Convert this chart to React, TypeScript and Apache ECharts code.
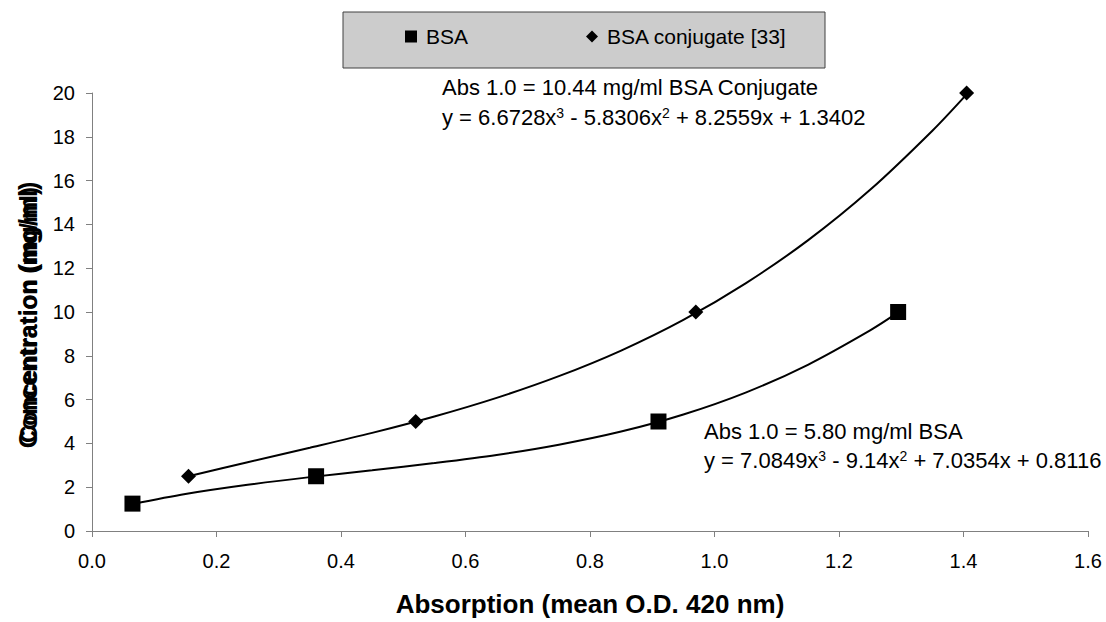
import React, { useEffect, useRef } from "react";
import * as echarts from "echarts";

const bsaX = [0.065, 0.36, 0.91, 1.295];
const bsaY = [1.25, 2.5, 5.0, 10.0];
const conjX = [0.155, 0.52, 0.97, 1.405];
const conjY = [2.5, 5.0, 10.0, 20.0];

// trendline points
const bsaTrendX = [0.065, 0.15, 0.25, 0.35, 0.45, 0.55, 0.65, 0.75, 0.85, 0.95, 1.05, 1.15, 1.25, 1.295];
const bsaTrendY = [1.23, 1.69, 2.11, 2.46, 2.77, 3.1, 3.47, 3.94, 4.54, 5.32, 6.32, 7.59, 9.16, 9.98];
const conjTrendX = [0.155, 0.25, 0.35, 0.45, 0.55, 0.65, 0.75, 0.85, 0.95, 1.05, 1.15, 1.25, 1.35, 1.405];
const conjTrendY = [2.5, 3.14, 3.8, 4.48, 5.23, 6.08, 7.07, 8.24, 9.64, 11.31, 13.27, 15.58, 18.28, 19.94];

const seriesNames = ["BSA", "BSA conjugate [33]"];
const xTitle = "Absorption (mean O.D. 420 nm)";
const yTitle = "Concentration (mg/ml)";
const conjNote1 = "Abs 1.0 = 10.44 mg/ml BSA Conjugate";
const conjNote2 = "y = 6.6728x{sup|3} - 5.8306x{sup|2} + 8.2559x + 1.3402";
const bsaNote1 = "Abs 1.0 = 5.80 mg/ml BSA";
const bsaNote2 = "y = 7.0849x{sup|3} - 9.14x{sup|2} + 7.0354x + 0.8116";

const FONT = '"Liberation Sans", Arial, sans-serif';

const zip = (xs: number[], ys: number[]) => xs.map((x, i) => [x, ys[i]]);

export default function App() {
  const ref = useRef<HTMLDivElement>(null);
  useEffect(() => {
    document.body.style.margin = "0";
    const chart = echarts.init(ref.current!, null, { renderer: "svg" });
    const noteStyle = (text: string) => ({
      text,
      fill: "#000",
      fontFamily: FONT,
      fontSize: 22,
      verticalAlign: "middle",
      rich: {
        sup: { fontSize: 14, fontFamily: FONT, verticalAlign: "top", lineHeight: 14, fill: "#000" },
      },
    });
    chart.setOption({
      animation: false,
      backgroundColor: "#ffffff",
      textStyle: { fontFamily: FONT },
      grid: { left: 92, right: 18, top: 93, bottom: 88 },
      legend: {
        data: [
          { name: seriesNames[0], icon: "rect", itemStyle: { color: "#000", opacity: 1 } },
          { name: seriesNames[1], icon: "diamond", itemStyle: { color: "#000", opacity: 1 } },
        ],
        left: 405,
        top: 26,
        padding: 0,
        itemWidth: 12,
        itemHeight: 12,
        itemGap: 118,
        textStyle: { fontSize: 21, color: "#000", fontFamily: FONT, padding: [0, 0, 0, 4] },
        z: 10,
      },
      xAxis: {
        type: "value",
        min: 0,
        max: 1.6,
        interval: 0.2,
        name: xTitle,
        nameLocation: "middle",
        nameGap: 60,
        nameTextStyle: { fontSize: 26, fontWeight: "bold", color: "#000", fontFamily: FONT },
        axisLine: { show: true, lineStyle: { color: "#808080", width: 1 } },
        axisTick: { show: true, length: 6, lineStyle: { color: "#808080" } },
        axisLabel: {
          fontSize: 20,
          color: "#000",
          margin: 20,
          formatter: (v: number) => v.toFixed(1),
        },
        splitLine: { show: false },
      },
      yAxis: {
        type: "value",
        min: 0,
        max: 20,
        interval: 2,
        axisLine: { show: true, lineStyle: { color: "#808080", width: 1 } },
        axisTick: { show: true, length: 6, lineStyle: { color: "#808080" } },
        axisLabel: { fontSize: 20, color: "#000", margin: 17 },
        splitLine: { show: false },
      },
      graphic: [
        {
          type: "rect",
          shape: { x: 343, y: 12, width: 482, height: 56 },
          style: { fill: "#cccccc", stroke: "#404040", lineWidth: 1 },
          z: 1,
        },
        {
          type: "text",
          x: 28,
          y: 315,
          rotation: Math.PI / 2,
          style: {
            text: yTitle,
            fill: "#000",
            font: `bold 25px ${FONT}`,
            align: "center",
            verticalAlign: "middle",
          },
        },
        {
          type: "text",
          x: 28,
          y: 315,
          rotation: Math.PI / 2,
          style: {
            text: yTitle,
            fill: "#000",
            font: `bold 24px ${FONT}`,
            align: "center",
            verticalAlign: "middle",
          },
        },
        { type: "text", x: 442, y: 87, style: noteStyle(conjNote1) },
        { type: "text", x: 442, y: 117, style: noteStyle(conjNote2) },
        { type: "text", x: 704, y: 431, style: noteStyle(bsaNote1) },
        { type: "text", x: 704, y: 460, style: noteStyle(bsaNote2) },
      ],
      series: [
        {
          name: "BSA trend",
          type: "line",
          data: zip(bsaTrendX, bsaTrendY),
          smooth: 0.3,
          showSymbol: false,
          lineStyle: { color: "#000", width: 2 },
          z: 2,
        },
        {
          name: "Conjugate trend",
          type: "line",
          data: zip(conjTrendX, conjTrendY),
          smooth: 0.3,
          showSymbol: false,
          lineStyle: { color: "#000", width: 2 },
          z: 2,
        },
        {
          name: seriesNames[0],
          type: "scatter",
          data: zip(bsaX, bsaY),
          symbol: "rect",
          symbolSize: 16,
          itemStyle: { color: "#000", opacity: 1 },
          z: 3,
        },
        {
          name: seriesNames[1],
          type: "scatter",
          data: zip(conjX, conjY),
          symbol: "diamond",
          symbolSize: 15,
          itemStyle: { color: "#000", opacity: 1 },
          z: 3,
        },
      ],
    });
    return () => chart.dispose();
  }, []);
  return <div ref={ref} style={{ width: 1106, height: 622 }} />;
}
